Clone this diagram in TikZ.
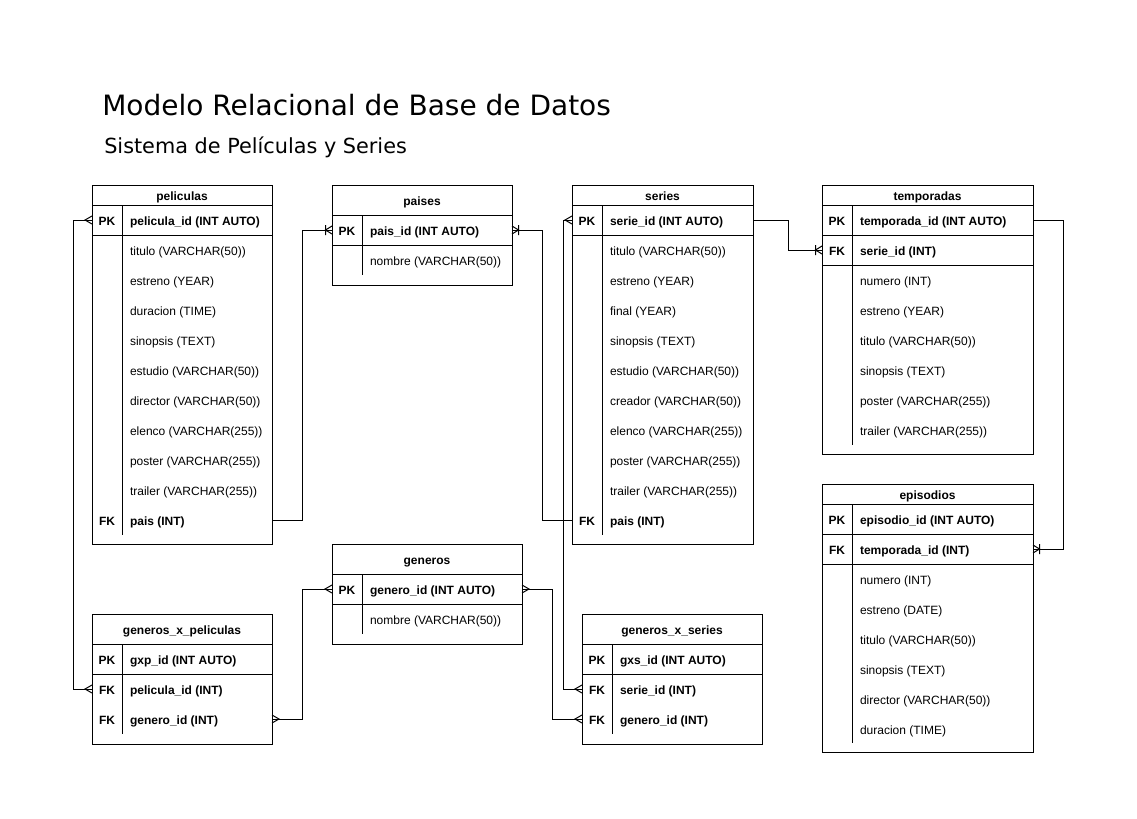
\documentclass[tikz,border=0pt]{standalone}
\usepackage{fontspec}
\setmainfont{Liberation Sans}
\newfontfamily\titlefont{DejaVu Sans}
\tikzset{
  ln/.style={line width=0.75pt, black},
  tbl/.style={draw, line width=0.75pt, inner sep=0pt, outer sep=0pt},
  rowbox/.style={inner sep=0pt, outer sep=0pt, minimum height=22.5pt},
  txt/.style={inner sep=0pt, outer sep=0pt, font=\fontsize{9pt}{11pt}\selectfont, text height=10pt, text depth=1.2pt},
  hdr/.style={txt, font=\fontsize{9pt}{11pt}\selectfont\bfseries},
  keytxt/.style={txt, font=\fontsize{9pt}{11pt}\selectfont\bfseries},
  fld/.style={txt, anchor=west},
  fldk/.style={fld, font=\fontsize{9pt}{11pt}\selectfont\bfseries},
  crow/.pic={\draw[ln] (0,-4) -- (-7,0) -- (0,4);},
  crowbar/.pic={\draw[ln] (0,-4) -- (-6.5,0) -- (0,4) (-6.5,-5) -- (-6.5,5);}
}
\newcommand\tabla[7]{% name,x1,y1,x2,y2,header line y,title
  \node[tbl, minimum width={(#4-#2)*0.75pt}, minimum height={(#5-#3)*0.75pt}] (#1) at ({(#2+#4)/2},{(#3+#5)/2}) {};
  \node[hdr] (#1-t) at ({(#2+#4)/2},{(#3+#6)/2}) {#7};
  \draw[ln] (#2,#6) -- (#4,#6);}
\newcommand\sepline[3]{\draw[ln] (#1,#3) -- (#2,#3);}
\newcommand\divisor[3]{\draw[ln] (#1,#2) -- (#1,#3);}
\newcommand\fila[6]{% name,x1,x2,xd,y,text
  \node[rowbox, minimum width={(#3-#2)*0.75pt}] (#1) at ({(#2+#3)/2},#5) {};
  \node[fld] (#1-f) at ({#4+8},#5) {#6};}
\newcommand\filak[7]{% name,x1,x2,xd,y,key,text
  \node[rowbox, minimum width={(#3-#2)*0.75pt}] (#1) at ({(#2+#3)/2},#5) {};
  \node[keytxt] (#1-k) at ({(#2+#4)/2},#5) {#6};
  \node[fldk] (#1-f) at ({#4+8},#5) {#7};}
\begin{document}
\begin{tikzpicture}[x=0.75pt, y=-0.75pt]
\fill[white] (0,0) rectangle (1137,818);
\useasboundingbox (0,0) rectangle (1137,818);

\node[anchor=base west, inner sep=0pt, font=\titlefont\fontsize{21pt}{25pt}\selectfont] (titulo) at (102,115) {Modelo Relacional de Base de Datos};
\node[anchor=base west, inner sep=0pt, font=\titlefont\fontsize{15.6pt}{19pt}\selectfont] (subtitulo) at (104,153) {Sistema de Películas y Series};

% peliculas
\tabla{pel}{92}{185}{272}{544}{205}{peliculas}
\filak{pel-pk}{92}{272}{122}{220}{PK}{pelicula\_id (INT AUTO)}
\sepline{92}{272}{235}
\fila{pel-titulo}{92}{272}{122}{250}{titulo (VARCHAR(50))}
\fila{pel-estreno}{92}{272}{122}{280}{estreno (YEAR)}
\fila{pel-duracion}{92}{272}{122}{310}{duracion (TIME)}
\fila{pel-sinopsis}{92}{272}{122}{340}{sinopsis (TEXT)}
\fila{pel-estudio}{92}{272}{122}{370}{estudio (VARCHAR(50))}
\fila{pel-director}{92}{272}{122}{400}{director (VARCHAR(50))}
\fila{pel-elenco}{92}{272}{122}{430}{elenco (VARCHAR(255))}
\fila{pel-poster}{92}{272}{122}{460}{poster (VARCHAR(255))}
\fila{pel-trailer}{92}{272}{122}{490}{trailer (VARCHAR(255))}
\filak{pel-pais}{92}{272}{122}{520}{FK}{pais (INT)}
\divisor{122}{205}{535}

% paises
\tabla{pai}{332}{185}{512}{285}{215}{paises}
\filak{pai-pk}{332}{512}{362}{230}{PK}{pais\_id (INT AUTO)}
\sepline{332}{512}{245}
\fila{pai-nombre}{332}{512}{362}{260}{nombre (VARCHAR(50))}
\divisor{362}{215}{275}

% series
\tabla{ser}{572}{185}{753}{544}{205}{series}
\filak{ser-pk}{572}{753}{602}{220}{PK}{serie\_id (INT AUTO)}
\sepline{572}{753}{235}
\fila{ser-titulo}{572}{753}{602}{250}{titulo (VARCHAR(50))}
\fila{ser-estreno}{572}{753}{602}{280}{estreno (YEAR)}
\fila{ser-final}{572}{753}{602}{310}{final (YEAR)}
\fila{ser-sinopsis}{572}{753}{602}{340}{sinopsis (TEXT)}
\fila{ser-estudio}{572}{753}{602}{370}{estudio (VARCHAR(50))}
\fila{ser-creador}{572}{753}{602}{400}{creador (VARCHAR(50))}
\fila{ser-elenco}{572}{753}{602}{430}{elenco (VARCHAR(255))}
\fila{ser-poster}{572}{753}{602}{460}{poster (VARCHAR(255))}
\fila{ser-trailer}{572}{753}{602}{490}{trailer (VARCHAR(255))}
\filak{ser-pais}{572}{753}{602}{520}{FK}{pais (INT)}
\divisor{602}{205}{535}

% temporadas
\tabla{tem}{822}{185}{1033}{454}{205}{temporadas}
\filak{tem-pk}{822}{1033}{852}{220}{PK}{temporada\_id (INT AUTO)}
\sepline{822}{1033}{235}
\filak{tem-ser}{822}{1033}{852}{250}{FK}{serie\_id (INT)}
\sepline{822}{1033}{265}
\fila{tem-numero}{822}{1033}{852}{280}{numero (INT)}
\fila{tem-estreno}{822}{1033}{852}{310}{estreno (YEAR)}
\fila{tem-titulo}{822}{1033}{852}{340}{titulo (VARCHAR(50))}
\fila{tem-sinopsis}{822}{1033}{852}{370}{sinopsis (TEXT)}
\fila{tem-poster}{822}{1033}{852}{400}{poster (VARCHAR(255))}
\fila{tem-trailer}{822}{1033}{852}{430}{trailer (VARCHAR(255))}
\divisor{852}{205}{445}

% episodios
\tabla{epi}{822}{484}{1033}{752}{504}{episodios}
\filak{epi-pk}{822}{1033}{852}{519}{PK}{episodio\_id (INT AUTO)}
\sepline{822}{1033}{534}
\filak{epi-tem}{822}{1033}{852}{549}{FK}{temporada\_id (INT)}
\sepline{822}{1033}{564}
\fila{epi-numero}{822}{1033}{852}{579}{numero (INT)}
\fila{epi-estreno}{822}{1033}{852}{609}{estreno (DATE)}
\fila{epi-titulo}{822}{1033}{852}{639}{titulo (VARCHAR(50))}
\fila{epi-sinopsis}{822}{1033}{852}{669}{sinopsis (TEXT)}
\fila{epi-director}{822}{1033}{852}{699}{director (VARCHAR(50))}
\fila{epi-duracion}{822}{1033}{852}{729}{duracion (TIME)}
\divisor{852}{504}{743}

% generos
\tabla{gen}{332}{544}{522}{644}{574}{generos}
\filak{gen-pk}{332}{522}{362}{589}{PK}{genero\_id (INT AUTO)}
\sepline{332}{522}{604}
\fila{gen-nombre}{332}{522}{362}{619}{nombre (VARCHAR(50))}
\divisor{362}{574}{634}

% generos_x_peliculas
\tabla{gxp}{92}{614}{272}{744}{644}{generos\_x\_peliculas}
\filak{gxp-pk}{92}{272}{122}{659}{PK}{gxp\_id (INT AUTO)}
\sepline{92}{272}{674}
\filak{gxp-pel}{92}{272}{122}{689}{FK}{pelicula\_id (INT)}
\filak{gxp-gen}{92}{272}{122}{719}{FK}{genero\_id (INT)}
\divisor{122}{644}{734}

% generos_x_series
\tabla{gxs}{582}{614}{762}{744}{644}{generos\_x\_series}
\filak{gxs-pk}{582}{762}{612}{659}{PK}{gxs\_id (INT AUTO)}
\sepline{582}{762}{674}
\filak{gxs-ser}{582}{762}{612}{689}{FK}{serie\_id (INT)}
\filak{gxs-gen}{582}{762}{612}{719}{FK}{genero\_id (INT)}
\divisor{612}{644}{734}

% connectors
\draw[ln] (pel-pk.west) -- ++(-19,0) |- (gxp-pel.west);
\draw[ln] (pai-pk.west) -- ++(-30,0) |- (pel-pais.east);
\draw[ln] (pai-pk.east) -- ++(30,0) |- (ser-pais.west);
\draw[ln] (ser-pk.west) -- ++(-9,0) |- (gxs-ser.west);
\draw[ln] (ser-pk.east) -- ++(35,0) |- (tem-ser.west);
\draw[ln] (tem-pk.east) -- ++(30,0) |- (epi-tem.east);
\draw[ln] (gen-pk.west) -- ++(-30,0) |- (gxp-gen.east);
\draw[ln] (gen-pk.east) -- ++(30,0) |- (gxs-gen.west);

% end marks
\pic at (pel-pk.west) {crow};
\pic at (gxp-pel.west) {crow};
\pic at (pai-pk.west) {crowbar};
\pic[rotate=180] at (pai-pk.east) {crowbar};
\pic at (ser-pk.west) {crow};
\pic at (gxs-ser.west) {crow};
\pic at (tem-ser.west) {crowbar};
\pic[rotate=180] at (epi-tem.east) {crowbar};
\pic at (gen-pk.west) {crow};
\pic[rotate=180] at (gxp-gen.east) {crow};
\pic[rotate=180] at (gen-pk.east) {crow};
\pic at (gxs-gen.west) {crow};
\end{tikzpicture}
\end{document}
